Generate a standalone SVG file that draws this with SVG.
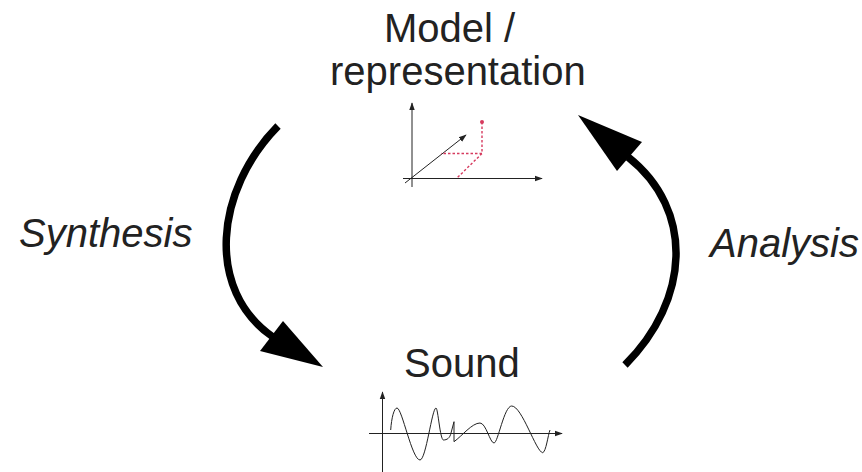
<svg xmlns="http://www.w3.org/2000/svg" width="862" height="472" viewBox="0 0 862 472">
<style>
  .lbl{font-family:"Liberation Sans",Arial,Helvetica,sans-serif;font-size:40px;fill:#222}
  .it{font-style:italic}
  .big{fill:none;stroke:#000;stroke-width:7.5}
  .head{fill:#000}
  .ax{fill:none;stroke:#222;stroke-width:1}
  .red{fill:none;stroke:#d63a5e;stroke-width:1.4;stroke-dasharray:2.5,2}
</style>
<defs>
  <marker id="sm" viewBox="0 0 10 10" refX="9" refY="5" markerWidth="8" markerHeight="8" markerUnits="userSpaceOnUse" orient="auto">
    <path d="M0,1.5 L10,5 L0,8.5 Z" fill="#222"/>
  </marker>
</defs>
<rect width="862" height="472" fill="#fff"/>
<g id="model">
  <text class="lbl" x="384" y="42">Model /</text>
  <text class="lbl" x="330" y="85">representation</text>
  <line class="ax" x1="412" y1="187" x2="412" y2="103" marker-end="url(#sm)"/>
  <line class="ax" x1="403" y1="178.5" x2="542" y2="178.5" marker-end="url(#sm)"/>
  <line class="ax" x1="405" y1="183" x2="466" y2="135" marker-end="url(#sm)"/>
  <path class="red" d="M482,122 L482,153.5 L441,153.5 M482,153.5 L457,178"/>
  <circle cx="482" cy="122" r="2" fill="#d63a5e"/>
</g>
<g id="sound">
  <text class="lbl" x="404" y="377">Sound</text>
  <line class="ax" x1="382.5" y1="472" x2="382.5" y2="392" marker-end="url(#sm)"/>
  <line class="ax" x1="369" y1="433.5" x2="562" y2="433.5" marker-end="url(#sm)"/>
  <path class="ax" d="M390.7,430 C391.5,418 394,408 397,408 C402,408 412,460 420,460 C426,460 432,408 436,408 C438,408 440,440 443.5,440 C447,440 450,438 451,433 L454,421.7 L454,441.7 C462,436 472,423 480,423 C486,423 490,443 494,443 C498,443 504,406 511.7,406 C522,406 536,452 542.7,452.7 C546,452 548,435 550,430"/>
</g>
<g id="synthesis-label">
  <text class="lbl it" x="19" y="247">Synthesis</text>
</g>
<g id="analysis-label">
  <text class="lbl it" x="710" y="257">Analysis</text>
</g>
<g id="connectors">
  <path class="big" d="M278,126 C215,190 205,290 273,337"/>
  <polygon class="head" points="323,367 283,321 260,351"/>
  <path class="big" d="M625,365 C690,300 695,210 628,157"/>
  <polygon class="head" points="578,115 642,142 617,171"/>
</g>
</svg>
